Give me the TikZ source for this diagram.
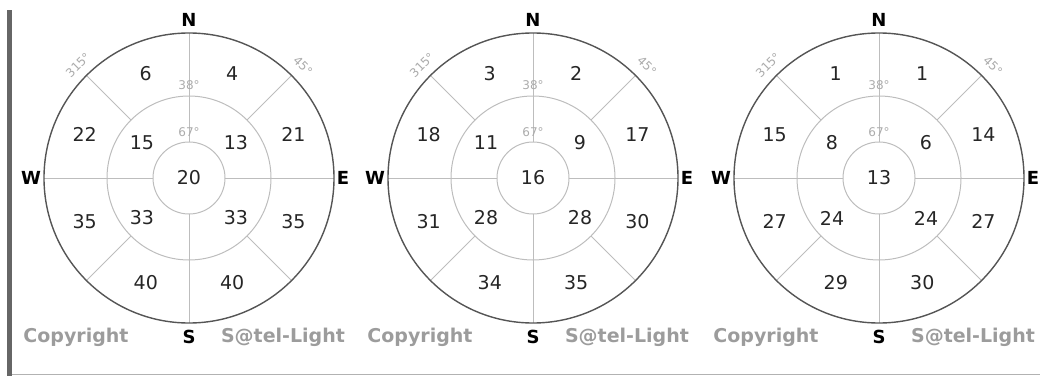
\documentclass[tikz,border=0pt]{standalone}
\usepackage{fontspec}
\setmainfont{DejaVu Sans}
\definecolor{ringgray}{HTML}{BDBDBD}
\definecolor{rimgray}{HTML}{555555}
\definecolor{markgray}{HTML}{ABABAB}
\definecolor{creditgray}{HTML}{9C9C9C}
\tikzset{
	num/.style={font=\fontsize{19}{19}\selectfont, text=black!85},
	compass/.style={font=\fontsize{18}{18}\selectfont\bfseries},
	angle/.style={font=\fontsize{12}{12}\selectfont, text=markgray, inner sep=1pt},
	credit/.style={font=\fontsize{19}{19}\selectfont\bfseries, text=creditgray},
}
\begin{document}
\begin{tikzpicture}[x=1pt, y=1pt, line width=1pt]
	\useasboundingbox (0,0) rectangle (1043,376);
	\fill[black!60] (7,0) rectangle (12,366);
	\draw[black!30, line width=1.2pt] (12,1.5) -- (1040,1.5);
	\foreach \i/\cx in {1/189, 2/533, 3/879} {
		\coordinate (c\i) at (\cx,198);
		\draw[ringgray] (c\i) circle (36) (c\i) circle (82);
		\foreach \a in {0,90,180,270}
			\draw[ringgray] ([shift={(\a:36)}]c\i) -- ([shift={(\a:145)}]c\i);
		\foreach \a in {45,135,225,315}
			\draw[ringgray] ([shift={(\a:82)}]c\i) -- ([shift={(\a:145)}]c\i);
		\draw[rimgray, line width=1.4pt] (c\i) circle (145);
		\node[compass] (N\i) at ([shift={(0,158)}]c\i) {N};
		\node[compass] (S\i) at ([shift={(0,-159)}]c\i) {S};
		\node[compass] (W\i) at ([shift={(-158,0)}]c\i) {W};
		\node[compass] (E\i) at ([shift={(154,0)}]c\i) {E};
		\node[angle, rotate=45] (a315-\i) at ([shift={(-111,113)}]c\i) {315°};
		\node[angle, rotate=-45] (a45-\i) at ([shift={(114,112)}]c\i) {45°};
		\node[angle] (a38-\i) at ([shift={(0,93)}]c\i) {38°};
		\node[angle] (a67-\i) at ([shift={(0,46)}]c\i) {67°};
		\node[credit] (copy\i) at ([shift={(-113,-159)}]c\i) {Copyright};
		\node[credit] (satel\i) at ([shift={(94,-159)}]c\i) {S@tel-Light};
	}
	\node[num] (v1) at (c1) {20};
	\node[num] (v2) at (c2) {16};
	\node[num] (v3) at (c3) {13};
	\foreach \v/\x/\y [count=\k] in {15/-47/35, 13/47/35, 33/-47/-40, 33/47/-40}
		\node[num] (m1-\k) at ([shift={(\x,\y)}]c1) {\v};
	\foreach \v/\x/\y [count=\k] in {11/-47/35, 9/47/35, 28/-47/-40, 28/47/-40}
		\node[num] (m2-\k) at ([shift={(\x,\y)}]c2) {\v};
	\foreach \v/\x/\y [count=\k] in {8/-47/35, 6/47/35, 24/-47/-40, 24/47/-40}
		\node[num] (m3-\k) at ([shift={(\x,\y)}]c3) {\v};
	\foreach \v/\a [count=\k] in {6/112.5, 4/67.5, 22/157.5, 21/22.5, 35/202.5, 35/337.5, 40/247.5, 40/292.5}
		\node[num] (o1-\k) at ([shift={(\a:113)}]c1) {\v};
	\foreach \v/\a [count=\k] in {3/112.5, 2/67.5, 18/157.5, 17/22.5, 31/202.5, 30/337.5, 34/247.5, 35/292.5}
		\node[num] (o2-\k) at ([shift={(\a:113)}]c2) {\v};
	\foreach \v/\a [count=\k] in {1/112.5, 1/67.5, 15/157.5, 14/22.5, 27/202.5, 27/337.5, 29/247.5, 30/292.5}
		\node[num] (o3-\k) at ([shift={(\a:113)}]c3) {\v};
\end{tikzpicture}
\end{document}
